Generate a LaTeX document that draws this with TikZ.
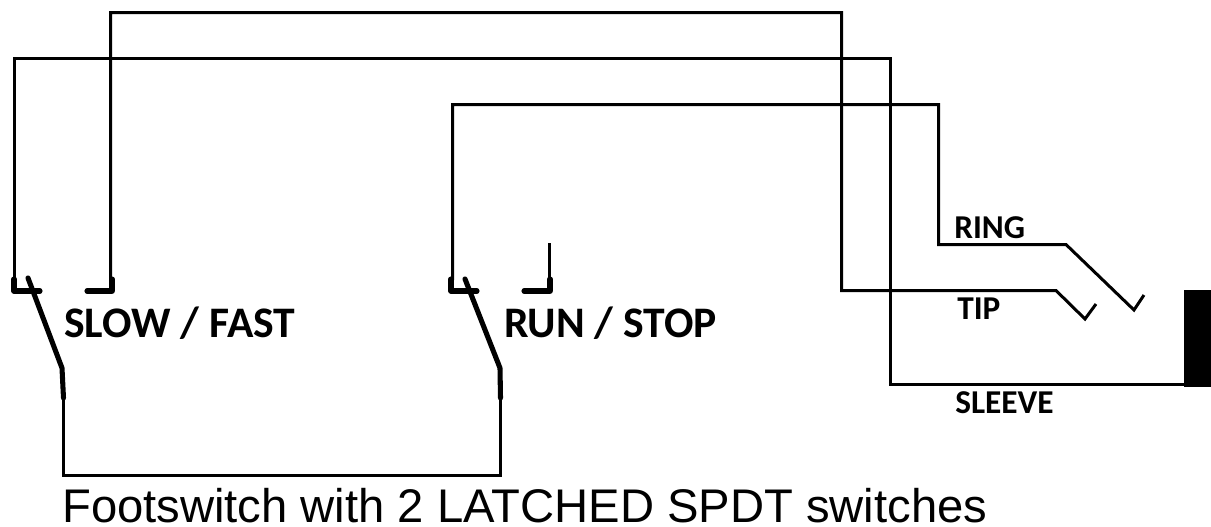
\documentclass[tikz,border=0pt]{standalone}
\usepackage{fontspec}
\setmainfont{Liberation Sans}
\newfontfamily\labelfont{Carlito}[BoldFont=Carlito-Bold]
\tikzset{
  wire/.style={draw=black,line width=2.25pt,line cap=butt,line join=miter},
  heavy/.style={draw=black,line width=3.8pt,line cap=round,line join=round},
  lever/.style={draw=black,line width=3.8pt,line cap=round,line join=round},
  biglabel/.style={anchor=base west,inner sep=0pt,font=\labelfont\bfseries\fontsize{32.7}{36}\selectfont},
  smalllabel/.style={anchor=base west,inner sep=0pt,font=\labelfont\bfseries\fontsize{25}{28}\selectfont},
  caption/.style={anchor=base west,inner sep=0pt,font=\fontsize{35.4}{38}\selectfont}
}
\begin{document}
\begin{tikzpicture}[x=0.75pt,y=-0.75pt]
\useasboundingbox (0,0) rectangle (1211,526);
% switch terminals
\coordinate (s1a) at (14.5,280);
\coordinate (s1b) at (110.5,280);
\coordinate (s2a) at (452.5,280);
\coordinate (s2b) at (549.5,280);
\coordinate (s1c) at (63.5,398);
\coordinate (s2c) at (500.5,398);
% jack points
\coordinate (tip) at (1056,290.5);
\coordinate (ring) at (1066,244.5);
\coordinate (sl) at (1184,384.5);
% wires
\draw[wire] (s1b) -- (110.5,12.5) -- (841.5,12.5) -- (841.5,290.5) -- (tip) -- (1085,319) -- (1096,304);
\draw[wire] (s1a) -- (14.5,58.5) -- (890.5,58.5) -- (890.5,384.5) -- (sl);
\draw[wire] (s2a) -- (452.5,104.5) -- (938.5,104.5) -- (938.5,244.5) -- (ring) -- (1134,310) -- (1144,295);
\draw[wire] (s2b) -- (549.5,243);
\draw[wire] (s1c) -- (63.5,475.5) -- (500.5,475.5) -- (s2c);
% switch 1
\draw[heavy] (14,279) -- (14,291) -- (40,291);
\draw[heavy] (87,291) -- (112,291) -- (112,279);
\draw[lever] (28,278) -- (62,368) -- (s1c);
% switch 2
\draw[heavy] (451,279) -- (451,291) -- (477,291);
\draw[heavy] (524,291) -- (550,291) -- (550,279);
\draw[lever] (465,279) -- (500,368) -- (s2c);
% plug sleeve
\node[fill=black,minimum width=20.25pt,minimum height=72.75pt,inner sep=0pt,anchor=north west] (sleevebar) at (1184,290) {};
% labels
\node[biglabel] (l1) at (64,337.5) {SLOW / FAST};
\node[biglabel] (l2) at (504,337.5) {RUN / STOP};
\node[smalllabel] (l3) at (954,238) {RING};
\node[smalllabel] (l4) at (957,319) {TIP};
\node[smalllabel] (l5) at (955,413) {SLEEVE};
\node[caption] (cap) at (62,522) {Footswitch with 2 LATCHED SPDT switches};
\end{tikzpicture}
\end{document}
